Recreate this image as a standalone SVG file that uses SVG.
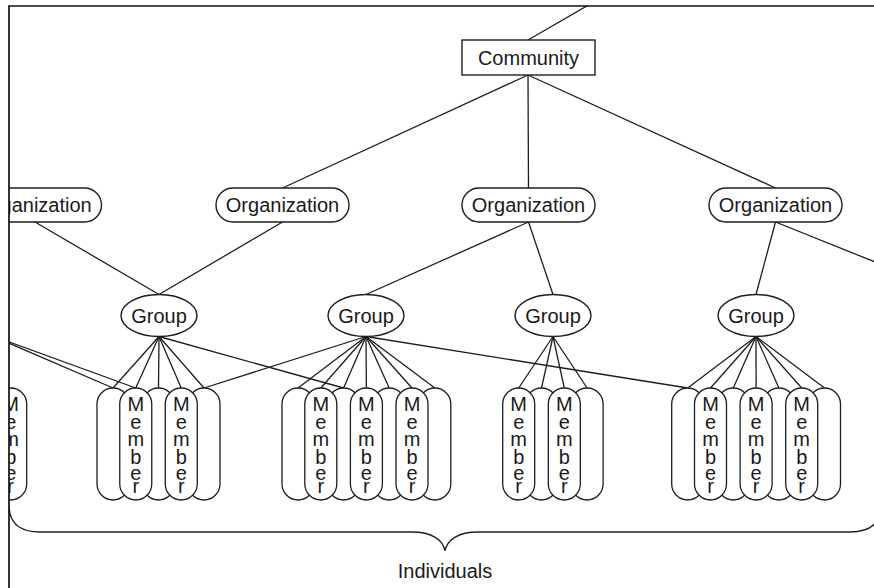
<svg xmlns="http://www.w3.org/2000/svg" xmlns:xlink="http://www.w3.org/1999/xlink" width="874" height="588" viewBox="0 0 874 588">
<style>
.ln{stroke:#1e1e1e;stroke-width:1.3;fill:none}
.box{fill:#fff;stroke:#1e1e1e;stroke-width:1.4}
.pill{fill:#fff;stroke:#1e1e1e;stroke-width:1.3}
.t{font-family:"Liberation Sans",Arial,Helvetica,sans-serif;font-size:20px;fill:#1a1a1a;text-anchor:middle}
.frame{stroke:#111;stroke-width:1.7;fill:none}
</style>
<defs>
<clipPath id="clip"><rect x="9" y="6" width="866" height="583"/></clipPath>
<rect id="pill" class="pill" x="-16" y="388" width="32" height="112" rx="16"/>
<text id="mtext" class="t"><tspan x="0" y="411">M</tspan><tspan x="0" y="429">e</tspan><tspan x="0" y="445.5">m</tspan><tspan x="0" y="463.5">b</tspan><tspan x="0" y="479.5">e</tspan><tspan x="0" y="493">r</tspan></text>
</defs>
<rect width="874" height="588" fill="#fff"/>
<g clip-path="url(#clip)">
<g id="connectors" class="ln">
<line x1="528" y1="40" x2="592" y2="3"/>
<line x1="528" y1="75" x2="282.5" y2="188"/>
<line x1="528" y1="75" x2="528.5" y2="188"/>
<line x1="528" y1="75" x2="775.5" y2="188"/>
<line x1="35" y1="222" x2="159" y2="294.5"/>
<line x1="282.5" y1="222" x2="159" y2="294.5"/>
<line x1="528.5" y1="222" x2="366" y2="294.5"/>
<line x1="528.5" y1="222" x2="553" y2="294.5"/>
<line x1="775.5" y1="222" x2="756" y2="294.5"/>
<line x1="775.5" y1="222" x2="900" y2="272"/>
<line x1="-10" y1="335" x2="113" y2="388"/>
<line x1="-10" y1="335" x2="135.75" y2="388"/>
<line x1="159" y1="336.5" x2="113" y2="388"/>
<line x1="159" y1="336.5" x2="135.75" y2="388"/>
<line x1="159" y1="336.5" x2="158.5" y2="388"/>
<line x1="159" y1="336.5" x2="181.25" y2="388"/>
<line x1="159" y1="336.5" x2="204" y2="388"/>
<line x1="159" y1="336.5" x2="343.6" y2="388"/>
<line x1="366" y1="336.5" x2="204" y2="388"/>
<line x1="366" y1="336.5" x2="298" y2="388"/>
<line x1="366" y1="336.5" x2="320.8" y2="388"/>
<line x1="366" y1="336.5" x2="343.6" y2="388"/>
<line x1="366" y1="336.5" x2="366.4" y2="388"/>
<line x1="366" y1="336.5" x2="389.2" y2="388"/>
<line x1="366" y1="336.5" x2="412" y2="388"/>
<line x1="366" y1="336.5" x2="434.8" y2="388"/>
<line x1="366" y1="336.5" x2="687.7" y2="388"/>
<line x1="553" y1="336.5" x2="518.7" y2="388"/>
<line x1="553" y1="336.5" x2="541.5" y2="388"/>
<line x1="553" y1="336.5" x2="564.3" y2="388"/>
<line x1="553" y1="336.5" x2="587.1" y2="388"/>
<line x1="756" y1="336.5" x2="687.7" y2="388"/>
<line x1="756" y1="336.5" x2="710.5" y2="388"/>
<line x1="756" y1="336.5" x2="733.3" y2="388"/>
<line x1="756" y1="336.5" x2="756.1" y2="388"/>
<line x1="756" y1="336.5" x2="778.9" y2="388"/>
<line x1="756" y1="336.5" x2="801.7" y2="388"/>
<line x1="756" y1="336.5" x2="824.5" y2="388"/>
</g>
<g id="community"><rect class="box" x="462" y="40" width="133" height="35"/><text class="t" x="528.5" y="65">Community</text></g>
<g id="org1"><rect class="box" x="-31.5" y="188" width="133" height="34" rx="17"/><text class="t" x="35" y="212">Organization</text></g>
<g id="org2"><rect class="box" x="216" y="188" width="133" height="34" rx="17"/><text class="t" x="282.5" y="212">Organization</text></g>
<g id="org3"><rect class="box" x="462" y="188" width="133" height="34" rx="17"/><text class="t" x="528.5" y="212">Organization</text></g>
<g id="org4"><rect class="box" x="709" y="188" width="133" height="34" rx="17"/><text class="t" x="775.5" y="212">Organization</text></g>
<g id="group1"><ellipse class="box" cx="159" cy="315.5" rx="38" ry="21"/><text class="t" x="159" y="322.5">Group</text></g>
<g id="group2"><ellipse class="box" cx="366" cy="315.5" rx="38" ry="21"/><text class="t" x="366" y="322.5">Group</text></g>
<g id="group3"><ellipse class="box" cx="553" cy="315.5" rx="38" ry="21"/><text class="t" x="553" y="322.5">Group</text></g>
<g id="group4"><ellipse class="box" cx="756" cy="315.5" rx="38" ry="21"/><text class="t" x="756" y="322.5">Group</text></g>
<g id="members0"><use href="#pill" x="10.7"/><use href="#mtext" x="10.7"/></g>
<g id="members1">
<use href="#pill" x="113"/><use href="#pill" x="158.5"/><use href="#pill" x="204"/>
<use href="#pill" x="135.75"/><use href="#mtext" x="135.75"/>
<use href="#pill" x="181.25"/><use href="#mtext" x="181.25"/>
</g>
<g id="members2">
<use href="#pill" x="298"/><use href="#pill" x="343.6"/><use href="#pill" x="389.2"/><use href="#pill" x="434.8"/>
<use href="#pill" x="320.8"/><use href="#mtext" x="320.8"/>
<use href="#pill" x="366.4"/><use href="#mtext" x="366.4"/>
<use href="#pill" x="412"/><use href="#mtext" x="412"/>
</g>
<g id="members3">
<use href="#pill" x="541.5"/><use href="#pill" x="587.1"/>
<use href="#pill" x="518.7"/><use href="#mtext" x="518.7"/>
<use href="#pill" x="564.3"/><use href="#mtext" x="564.3"/>
</g>
<g id="members4">
<use href="#pill" x="687.7"/><use href="#pill" x="733.3"/><use href="#pill" x="778.9"/><use href="#pill" x="824.5"/>
<use href="#pill" x="710.5"/><use href="#mtext" x="710.5"/>
<use href="#pill" x="756.1"/><use href="#mtext" x="756.1"/>
<use href="#pill" x="801.7"/><use href="#mtext" x="801.7"/>
</g>
<g id="individuals">
<path class="ln" d="M9 505 C9 522 19 532 40 532 L412 532 C432 532 443 540 445 551 C447 540 458 532 478 532 L850 532 C871 532 881 522 881 505"/>
<text class="t" x="445" y="578">Individuals</text>
</g>
</g>
<g id="frame" class="frame"><path d="M874 6 H9 V588"/></g>
</svg>
